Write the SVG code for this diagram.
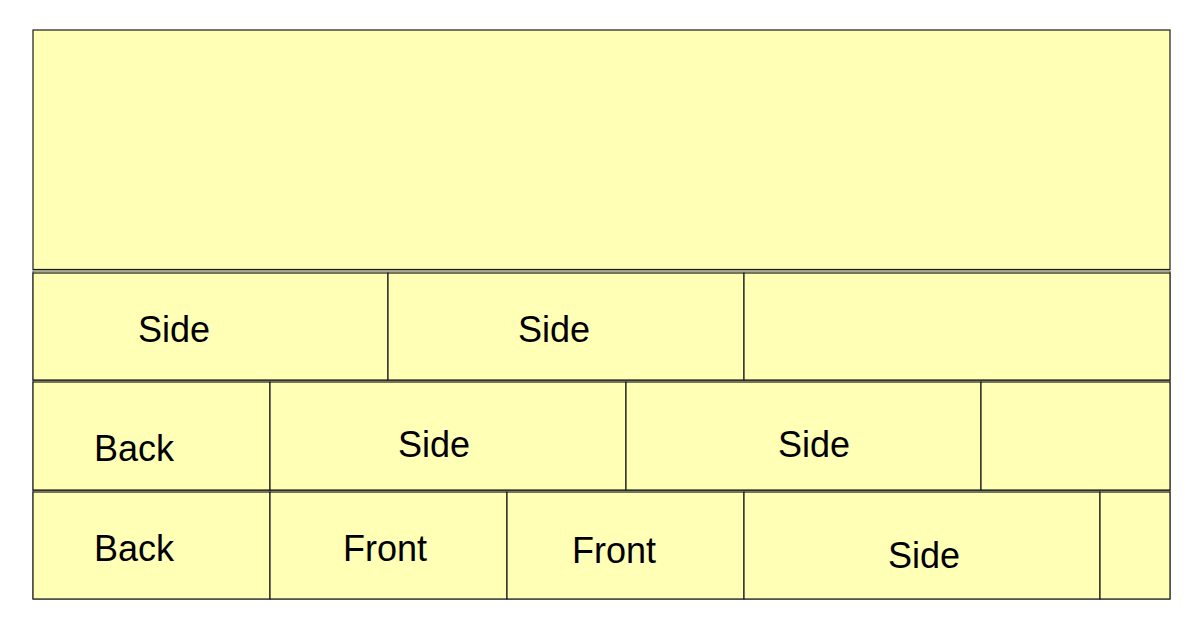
<svg xmlns="http://www.w3.org/2000/svg" width="1200" height="632" viewBox="0 0 1200 632">
<style>
.c{fill:#ffffb5;stroke:#1a1a1a;stroke-width:1.2}
.r{fill:#ffffb5;stroke:#555;stroke-width:1}
text{font-family:"Liberation Sans",Arial,sans-serif;font-size:36px;fill:#000;text-anchor:middle}
</style>
<rect width="1200" height="632" fill="#fff"/>
<g id="top"><rect class="c" x="33" y="30" width="1137" height="239.5"/></g>
<g id="row1"><rect class="r" x="33" y="271" width="1137" height="109"/></g>
<g id="row2"><rect class="r" x="33" y="380.5" width="1137" height="109.5"/></g>
<g id="row3"><rect class="r" x="33" y="490.5" width="1137" height="108.5"/></g>
<g id="r1c1"><rect class="c" x="33" y="273" width="355" height="107"/><text x="174" y="342">Side</text></g>
<g id="r1c2"><rect class="c" x="388" y="273" width="356" height="107"/><text x="554" y="342">Side</text></g>
<g id="r1c3"><rect class="c" x="744" y="273" width="426" height="107"/></g>
<g id="r2c1"><rect class="c" x="33" y="382" width="237" height="108"/><text x="134" y="461">Back</text></g>
<g id="r2c2"><rect class="c" x="270" y="382" width="356" height="108"/><text x="434" y="457">Side</text></g>
<g id="r2c3"><rect class="c" x="626" y="382" width="355" height="108"/><text x="814" y="457">Side</text></g>
<g id="r2c4"><rect class="c" x="981" y="382" width="189" height="108"/></g>
<g id="r3c1"><rect class="c" x="33" y="492" width="237" height="107"/><text x="134" y="561">Back</text></g>
<g id="r3c2"><rect class="c" x="270" y="492" width="237" height="107"/><text x="385" y="561">Front</text></g>
<g id="r3c3"><rect class="c" x="507" y="492" width="237" height="107"/><text x="614" y="563">Front</text></g>
<g id="r3c4"><rect class="c" x="744" y="492" width="356" height="107"/><text x="924" y="568">Side</text></g>
<g id="r3c5"><rect class="c" x="1100" y="492" width="70" height="107"/></g>
<g id="connectors"></g>
</svg>
